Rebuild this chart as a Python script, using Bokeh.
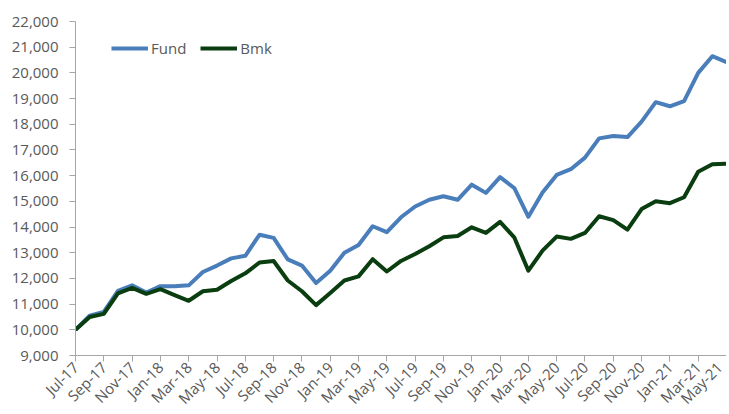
import math
from bokeh.plotting import figure
from bokeh.models import ColumnDataSource, FixedTicker, NumeralTickFormatter, Range1d, Legend, LegendItem
from bokeh.embed import file_html
from bokeh.resources import INLINE

months = ["Jul-17", "Aug-17", "Sep-17", "Oct-17", "Nov-17", "Dec-17",
          "Jan-18", "Feb-18", "Mar-18", "Apr-18", "May-18", "Jun-18",
          "Jul-18", "Aug-18", "Sep-18", "Oct-18", "Nov-18", "Dec-18",
          "Jan-19", "Feb-19", "Mar-19", "Apr-19", "May-19", "Jun-19",
          "Jul-19", "Aug-19", "Sep-19", "Oct-19", "Nov-19", "Dec-19",
          "Jan-20", "Feb-20", "Mar-20", "Apr-20", "May-20", "Jun-20",
          "Jul-20", "Aug-20", "Sep-20", "Oct-20", "Nov-20", "Dec-20",
          "Jan-21", "Feb-21", "Mar-21", "Apr-21", "May-21"]

fund = [10000, 10550, 10700, 11520, 11730, 11450,
        11700, 11700, 11730, 12250, 12500, 12780,
        12880, 13700, 13580, 12740, 12500, 11820,
        12300, 13000, 13300, 14030, 13800, 14380,
        14800, 15060, 15200, 15060, 15650, 15330,
        15940, 15520, 14400, 15340, 16030, 16250,
        16700, 17450, 17540, 17500, 18100, 18860,
        18700, 18900, 20000, 20650, 20420]

bmk = [10000, 10500, 10620, 11420, 11630, 11400,
       11580, 11350, 11130, 11500, 11560, 11900,
       12200, 12620, 12680, 11920, 11500, 10960,
       11430, 11920, 12080, 12750, 12270, 12680,
       12950, 13250, 13600, 13650, 13990, 13770,
       14200, 13600, 12300, 13080, 13630, 13540,
       13770, 14420, 14270, 13900, 14700, 15000,
       14930, 15160, 16150, 16440, 16460]

idx = list(range(len(months)))
src = ColumnDataSource(dict(x=idx, fund=fund, bmk=bmk))

p = figure(output_backend="svg", toolbar_location=None,
           frame_width=651, frame_height=334,
           min_border_left=75, min_border_top=21, min_border_right=0, min_border_bottom=55,
           x_range=Range1d(0, len(months) - 1), y_range=Range1d(9000, 22000))
p.outline_line_color = None
p.grid.visible = False
p.background_fill_color = "white"
p.border_fill_color = "white"

FONT = "Open Sans"
GREY = "#595959"
AXC = "#A6A6A6"

r1 = p.line("x", "fund", source=src, line_color="#4A7EBB", line_width=4, line_join="round")
r2 = p.line("x", "bmk", source=src, line_color="#0A3D0F", line_width=4, line_join="round")

p.yaxis.ticker = FixedTicker(ticks=list(range(9000, 22001, 1000)))
p.yaxis.formatter = NumeralTickFormatter(format="0,0")
p.xaxis.ticker = FixedTicker(ticks=idx[::2])
p.xaxis.major_label_overrides = {i: months[i] for i in idx[::2]}
p.xaxis.major_label_orientation = math.pi / 4

for ax in (p.xaxis, p.yaxis):
    ax.axis_line_color = AXC
    ax.major_tick_line_color = AXC
    ax.major_tick_in = 0
    ax.major_tick_out = 6
    ax.minor_tick_line_color = None
    ax.major_label_text_font = FONT
    ax.major_label_text_font_size = "15px"
    ax.major_label_text_color = GREY
p.yaxis.major_label_standoff = 11
p.xaxis.major_label_standoff = 3

legend = Legend(items=[LegendItem(label="Fund", renderers=[r1]),
                       LegendItem(label="Bmk", renderers=[r2])],
                orientation="horizontal", location=(36, 297),
                padding=0, margin=0, spacing=14, glyph_width=37, glyph_height=20,
                label_standoff=3, label_text_font=FONT, label_text_font_size="15px",
                label_text_color=GREY, border_line_color=None, background_fill_alpha=0)
p.add_layout(legend)

open("out.html", "w").write(file_html(p, INLINE))
